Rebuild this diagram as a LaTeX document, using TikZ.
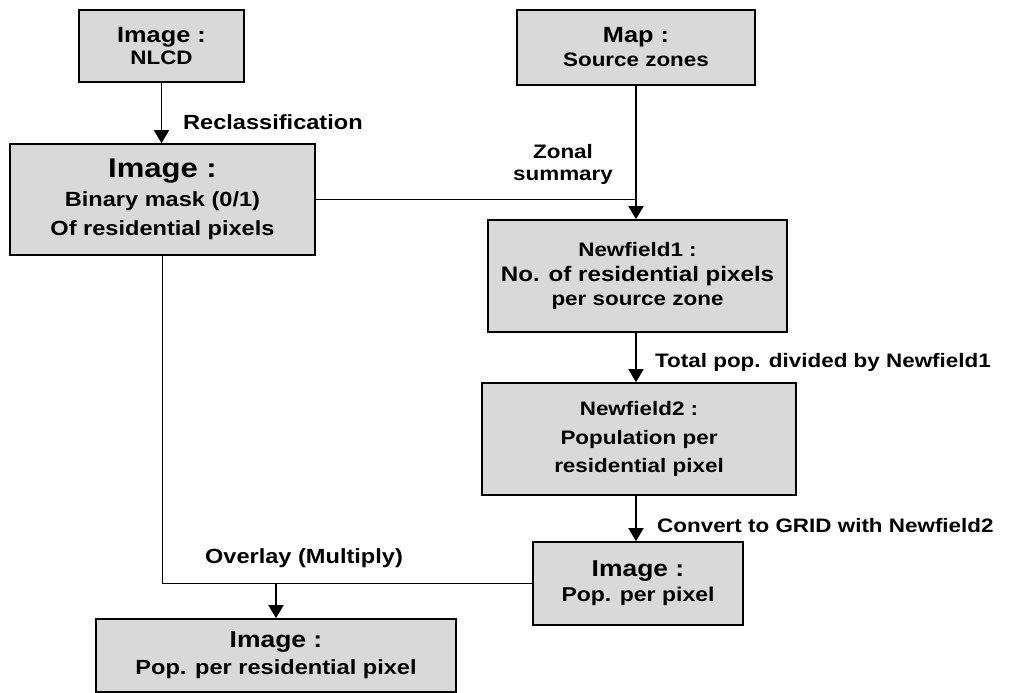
\documentclass[tikz,border=0pt]{standalone}
\usepackage{fontspec}
\setmainfont{Liberation Sans}[FakeStretch=1.15]
\usetikzlibrary{arrows.meta}
\definecolor{boxgray}{gray}{0.85}
\newcommand{\fs}[2]{\fontsize{#1}{#2}\selectfont}
\tikzset{
  box/.style={draw, line width=1.6pt, fill=boxgray, inner sep=0pt, align=center},
  lbl/.style={inner sep=0pt, align=center},
  ln/.style={line width=1.5pt},
  arr/.style={line width=1.5pt, -{Triangle[length=13pt,width=15pt]}}
}
\begin{document}
\begin{tikzpicture}[x=1pt,y=-1pt]
\useasboundingbox (0,0) rectangle (1034,693);
\node[box, minimum width=165pt, minimum height=72pt, font=\bfseries\fs{19.5}{22}] (nlcd) at (161.5,46)
  {{\fs{22}{22}Image :}\\ NLCD};
\node[box, minimum width=238pt, minimum height=75pt, font=\bfseries\fs{19.5}{24}] (map) at (636,47.5)
  {{\fs{22}{24}Map :}\\ Source zones};
\node[box, minimum width=305pt, minimum height=111pt, font=\bfseries\fs{20.5}{29}] (bin) at (162.5,199.5)
  {{\fs{27}{29}Image :}\\ Binary mask (0/1)\\ Of residential pixels};
\node[box, minimum width=299pt, minimum height=112pt, font=\bfseries\fs{19.5}{24.5}] (nf1) at (637.5,276)
  {Newfield1 :\\ {\fs{21}{24.5}No. of residential pixels}\\ per source zone};
\node[box, minimum width=314pt, minimum height=112pt, font=\bfseries\fs{19.5}{28.5}] (nf2) at (639,439)
  {Newfield2 :\\ Population per\\ residential pixel};
\node[box, minimum width=210pt, minimum height=83pt, font=\bfseries\fs{20}{25}] (ppp) at (638,583.5)
  {{\fs{23}{25}Image :}\\ Pop. per pixel};
\node[box, minimum width=360pt, minimum height=73pt, font=\bfseries\fs{20.5}{27}] (fin) at (276,655.5)
  {{\fs{23}{27}Image :}\\ Pop. per residential pixel};

\draw[arr] (nlcd.south) -- (nlcd.south |- bin.north);
\draw[arr] (map.south) -- (map.south |- nf1.north);
\draw[ln] (bin.east) -- (bin.east -| map.south);
\draw[arr] (nf1.south -| map.south) -- (map.south |- nf2.north);
\draw[arr] (nf2.south -| map.south) -- (map.south |- ppp.north);
\draw[ln] (bin.south) |- (ppp.west);
\coordinate (join) at (fin.north |- ppp.west);
\draw[arr] (join) -- (fin.north);

\node[lbl, anchor=west, font=\bfseries\fs{20.5}{23}] (l1) at (183,122) {Reclassification};
\node[lbl, font=\bfseries\fs{19.5}{22}] (l2) at (563,164) {Zonal\\ summary};
\node[lbl, anchor=west, font=\bfseries\fs{19.5}{23}] (l3) at (655,362) {Total pop. divided by Newfield1};
\node[lbl, anchor=west, font=\bfseries\fs{19.5}{23}] (l4) at (657,526) {Convert to GRID with Newfield2};
\node[lbl, font=\bfseries\fs{20.5}{23}] (l5) at (304,558) {Overlay (Multiply)};
\end{tikzpicture}
\end{document}
